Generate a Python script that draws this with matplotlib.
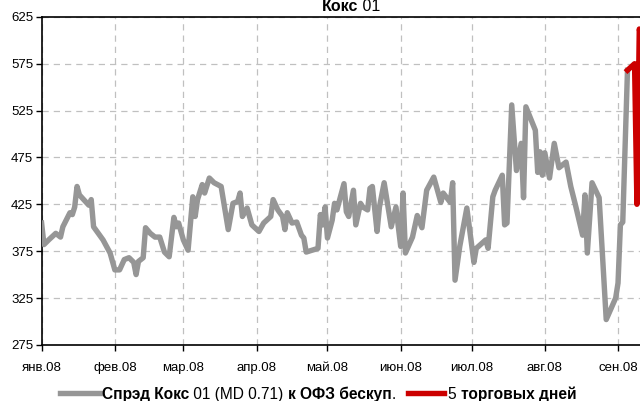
import numpy as np
import pandas as pd
import matplotlib
matplotlib.use('Agg')
import matplotlib.pyplot as plt
from matplotlib.lines import Line2D

plt.rcParams['font.family'] = ['Liberation Sans Narrow', 'Liberation Sans', 'DejaVu Sans']

# days after 2008-01-01 and spread values (bp)
gray_day = [0, 1, 3, 6, 8, 9, 12, 13, 14, 15, 16, 20, 21, 22, 26, 29, 31, 33, 35, 37,
            39, 40, 41, 43, 44, 46, 48, 50, 52, 54, 56, 57, 58, 60, 62, 64, 65, 66, 68, 69,
            71, 73, 76, 79, 81, 83, 84, 85, 87, 89, 92, 94, 97, 98, 100, 102, 103, 104, 106, 108,
            110, 111, 112, 117, 118, 119, 120, 121, 123, 124, 125, 128, 129, 130, 132, 133, 135, 136, 138, 139,
            140, 142, 143, 145, 148, 150, 152, 153, 154, 157, 159, 161, 163, 166, 169, 170, 173, 174, 175, 177,
            180, 183, 184, 188, 189, 191, 192, 195, 196, 197, 199, 201, 203, 204, 205, 209, 210, 211, 212, 213,
            215, 217, 219, 222, 224, 226, 229, 230, 231, 233, 236, 239, 243, 244, 245, 246, 248]
gray_val = [405, 382, 387, 394, 390, 401, 416, 414, 422, 444, 435, 424, 430, 401, 387, 373, 355, 355, 366, 368,
            363, 350, 364, 368, 400, 394, 390, 390, 374, 369, 411, 401, 405, 387, 376, 433, 412, 430, 446, 437,
            453, 448, 444, 398, 426, 428, 437, 412, 421, 403, 396, 405, 412, 430, 419, 412, 398, 416, 405, 406,
            392, 389, 374, 378, 414, 403, 422, 389, 408, 426, 419, 447, 417, 412, 440, 403, 426, 422, 419, 442,
            444, 396, 422, 448, 401, 422, 380, 437, 373, 390, 413, 400, 440, 454, 427, 437, 427, 448, 344, 380,
            421, 363, 378, 387, 378, 433, 440, 456, 403, 405, 531, 461, 490, 432, 529, 504, 459, 481, 456, 480,
            453, 490, 464, 470, 444, 424, 392, 435, 373, 448, 432, 302, 325, 341, 403, 406, 568]
red_day = [248, 251, 252, 253, 254]
red_val = [568, 575, 425, 612, 600]

month_labels = ['янв.08', 'фев.08', 'мар.08', 'апр.08', 'май.08', 'июн.08', 'июл.08', 'авг.08', 'сен.08']
y_ticks = [275, 325, 375, 425, 475, 525, 575, 625]

base = pd.Timestamp('2008-01-01')
gray_dates = base + pd.to_timedelta(gray_day, unit='D')
red_dates = base + pd.to_timedelta(red_day, unit='D')
month_starts = pd.date_range('2008-01-01', periods=9, freq='MS')

fig = plt.figure(figsize=(6.4, 4.01), dpi=100)
ax = fig.add_axes([0.065, 0.14, 0.935, 0.818])

gray = '#969696'
red = '#cc0000'
ax.plot(gray_dates, gray_val, color=gray, lw=3.9, solid_joinstyle='round', zorder=3)
ax.plot(red_dates, red_val, color=red, lw=3.9, solid_joinstyle='round', zorder=4)

ax.set_ylim(275, 625)
ax.set_xlim(base, base + pd.Timedelta(days=253.3))
ax.set_yticks(y_ticks)
ax.set_xticks(month_starts)
ax.set_xticklabels(month_labels)
ax.tick_params(axis='both', labelsize=9.5, direction='out', length=4, width=1, colors='black')
ax.tick_params(axis='x', pad=8)
ax.tick_params(axis='y', pad=2)
ax.grid(True, color='#c0c0c0', linestyle=(0, (5, 4)), lw=0.9)
ax.set_axisbelow(True)
for s in ['left', 'bottom', 'top']:
    ax.spines[s].set_color('black')
    ax.spines[s].set_linewidth(1.2)
ax.spines['right'].set_visible(False)


def chain(x, y, parts, size):
    r = fig.canvas.get_renderer()
    for s, w in parts:
        t = fig.text(x, y, s, fontsize=size, fontweight=w, va='baseline', ha='left')
        bb = t.get_window_extent(renderer=r)
        x += bb.width / fig.bbox.width
    return x


# title (mixed weight)
chain(0.503, 0.972, [('Кокс', 'bold'), (' 01', 'normal')], 11.5)

# legend
fig.add_artist(Line2D([0.094, 0.156], [0.02, 0.02], color=gray, lw=3.9, transform=fig.transFigure))
chain(0.159, 0.006, [('Спрэд Кокс', 'bold'), (' 01 (MD 0.71) ', 'normal'),
                     ('к ОФЗ бескуп', 'bold'), ('.', 'normal')], 11.2)
fig.add_artist(Line2D([0.637, 0.694], [0.02, 0.02], color=red, lw=3.9, transform=fig.transFigure))
chain(0.700, 0.006, [('5 ', 'normal'), ('торговых дней', 'bold')], 11.2)

fig.savefig('out.png', dpi=100)
